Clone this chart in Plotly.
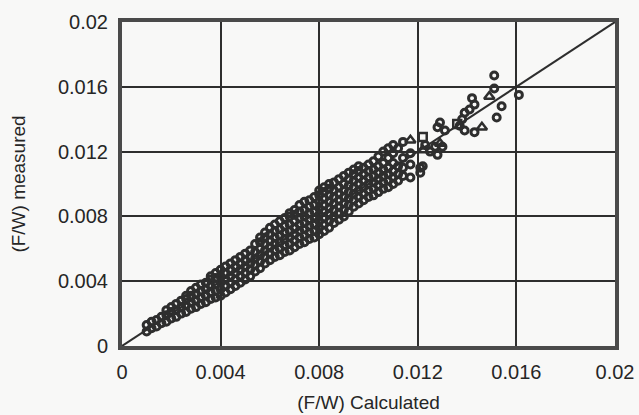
import plotly.graph_objects as go

# Main dense band of open circles: calculated (F/W) positions and the measured
# values read at each of them from the picture
band_calc = [
    0.0010, 0.0012, 0.0014, 0.0016, 0.0018, 0.0020, 0.0022, 0.0024, 0.0026, 0.0028,
    0.0030, 0.0032, 0.0034, 0.0036, 0.0038, 0.0040, 0.0042, 0.0044, 0.0046, 0.0048,
    0.0050, 0.0052, 0.0054, 0.0056, 0.0058, 0.0060, 0.0062, 0.0064, 0.0066, 0.0068,
    0.0070, 0.0072, 0.0074, 0.0076, 0.0078, 0.0080, 0.0082, 0.0084, 0.0086, 0.0088,
    0.0090, 0.0092, 0.0094, 0.0096, 0.0098, 0.0100, 0.0102, 0.0104, 0.0106, 0.0108,
    0.0110, 0.0112, 0.0114, 0.0117, 0.0121,
]
band_meas = [
    [0.0009, 0.0013],
    [0.0011, 0.0015],
    [0.0012, 0.0016],
    [0.0014, 0.0018],
    [0.0015, 0.0019, 0.0022],
    [0.0017, 0.0021, 0.0024],
    [0.0018, 0.0022, 0.0026],
    [0.0020, 0.0024, 0.0028],
    [0.0021, 0.0025, 0.0029, 0.0031],
    [0.0023, 0.0027, 0.0031, 0.0034],
    [0.0024, 0.0028, 0.0032, 0.0036],
    [0.0026, 0.0030, 0.0034, 0.0038],
    [0.0027, 0.0031, 0.0035, 0.0039],
    [0.0029, 0.0033, 0.0037, 0.0041, 0.0043],
    [0.0030, 0.0034, 0.0038, 0.0042, 0.0045],
    [0.0031, 0.0035, 0.0039, 0.0043, 0.0047],
    [0.0033, 0.0037, 0.0041, 0.0045, 0.0049],
    [0.0035, 0.0039, 0.0043, 0.0047, 0.0051],
    [0.0037, 0.0041, 0.0045, 0.0049, 0.0053],
    [0.0039, 0.0043, 0.0047, 0.0051, 0.0055],
    [0.0041, 0.0045, 0.0049, 0.0053, 0.0057],
    [0.0043, 0.0047, 0.0051, 0.0055, 0.0059],
    [0.0046, 0.0050, 0.0054, 0.0058, 0.0063],
    [0.0048, 0.0052, 0.0056, 0.0060, 0.0064, 0.0067],
    [0.0051, 0.0055, 0.0059, 0.0063, 0.0067, 0.0070],
    [0.0053, 0.0057, 0.0061, 0.0065, 0.0069, 0.0073],
    [0.0055, 0.0059, 0.0063, 0.0067, 0.0071, 0.0075],
    [0.0056, 0.0060, 0.0064, 0.0068, 0.0072, 0.0077],
    [0.0058, 0.0062, 0.0066, 0.0070, 0.0074, 0.0079],
    [0.0059, 0.0063, 0.0067, 0.0071, 0.0075, 0.0080, 0.0082],
    [0.0061, 0.0065, 0.0069, 0.0073, 0.0077, 0.0081, 0.0084],
    [0.0063, 0.0067, 0.0071, 0.0075, 0.0079, 0.0083, 0.0087],
    [0.0064, 0.0068, 0.0072, 0.0076, 0.0080, 0.0084, 0.0089],
    [0.0066, 0.0070, 0.0074, 0.0078, 0.0082, 0.0086, 0.0090],
    [0.0067, 0.0071, 0.0075, 0.0079, 0.0083, 0.0087, 0.0092],
    [0.0069, 0.0073, 0.0077, 0.0081, 0.0085, 0.0089, 0.0093, 0.0096],
    [0.0071, 0.0075, 0.0079, 0.0083, 0.0087, 0.0091, 0.0095, 0.0098],
    [0.0073, 0.0077, 0.0081, 0.0085, 0.0089, 0.0093, 0.0097, 0.0100],
    [0.0076, 0.0080, 0.0084, 0.0088, 0.0092, 0.0096, 0.0101],
    [0.0078, 0.0082, 0.0086, 0.0090, 0.0094, 0.0098, 0.0103],
    [0.0080, 0.0084, 0.0088, 0.0092, 0.0096, 0.0100, 0.0105],
    [0.0083, 0.0087, 0.0091, 0.0095, 0.0099, 0.0103, 0.0107],
    [0.0086, 0.0090, 0.0094, 0.0098, 0.0102, 0.0106, 0.0109],
    [0.0088, 0.0092, 0.0096, 0.0100, 0.0104, 0.0108, 0.0111],
    [0.0090, 0.0094, 0.0098, 0.0102, 0.0106, 0.0110],
    [0.0092, 0.0096, 0.0100, 0.0104, 0.0108, 0.0112],
    [0.0093, 0.0097, 0.0101, 0.0105, 0.0109, 0.0114],
    [0.0095, 0.0099, 0.0103, 0.0107, 0.0111, 0.0117],
    [0.0097, 0.0101, 0.0105, 0.0109, 0.0113, 0.0120],
    [0.0098, 0.0102, 0.0106, 0.0110, 0.0116, 0.0122],
    [0.0100, 0.0104, 0.0108, 0.0113, 0.0119, 0.0124],
    [0.0102, 0.0106, 0.0111, 0.0122],
    [0.0105, 0.0110, 0.0116, 0.0126],
    [0.0104, 0.0112, 0.0119],
    [0.0107, 0.0110],
]

# Scattered open circles beyond the band (upper end)
upper_calc = [0.0151, 0.0161, 0.0152, 0.0154, 0.0151, 0.0142, 0.0143, 0.0141, 0.0139,
              0.0138, 0.0137, 0.0139, 0.0143, 0.0129, 0.0128, 0.0131, 0.0125, 0.0130,
              0.0128, 0.0122, 0.0123, 0.0127]
upper_meas = [0.0167, 0.0155, 0.0141, 0.0148, 0.0159, 0.0153, 0.0149, 0.0146, 0.0144,
              0.0140, 0.0136, 0.0133, 0.0132, 0.0138, 0.0135, 0.0133, 0.0120, 0.0123,
              0.0118, 0.0111, 0.0124, 0.0123]

# Other symbols near the upper end
triangle_calc = [0.0117, 0.0146, 0.0149, 0.0129, 0.0122]
triangle_meas = [0.0127, 0.0135, 0.0154, 0.0125, 0.0121]
square_calc = [0.0122, 0.0136]
square_meas = [0.0129, 0.0137]

diag = [0.0, 0.02]

band_x = [x for x, ys in zip(band_calc, band_meas) for _ in ys]
band_y = [y for ys in band_meas for y in ys]

ink = "#2e2e2e"
bg = "#f8f8f7"

fig = go.Figure()
fig.add_trace(go.Scatter(x=diag, y=diag, mode="lines",
                         line=dict(color=ink, width=2), hoverinfo="skip"))
mk = dict(symbol="circle-open", size=7, line=dict(color=ink, width=3), color=ink)
fig.add_trace(go.Scatter(x=band_x, y=band_y, mode="markers", marker=mk))
fig.add_trace(go.Scatter(x=upper_calc, y=upper_meas, mode="markers", marker=mk))
fig.add_trace(go.Scatter(x=triangle_calc, y=triangle_meas, mode="markers",
                         marker=dict(symbol="triangle-up-open", size=9,
                                     line=dict(color=ink, width=2.5), color=ink)))
fig.add_trace(go.Scatter(x=square_calc, y=square_meas, mode="markers",
                         marker=dict(symbol="square-open", size=8,
                                     line=dict(color=ink, width=2.5), color=ink)))

tickvals = [0, 0.004, 0.008, 0.012, 0.016, 0.02]
ticktext = ["0", "0.004", "0.008", "0.012", "0.016", "0.02"]
fam = "Liberation Sans, Arial, sans-serif"
font = dict(family=fam, size=20, color="#262626")

axis_common = dict(
    range=[0, 0.02], tickvals=tickvals, ticktext=ticktext,
    showgrid=True, gridcolor=ink, gridwidth=2,
    zeroline=False, showline=True, linecolor="#4a4a4a", linewidth=4, mirror=True,
    tickfont=font, ticks="", fixedrange=True, automargin=False,
)

fig.update_layout(
    width=639, height=415,
    margin=dict(l=122, r=24, t=22, b=69),
    paper_bgcolor=bg, plot_bgcolor=bg,
    showlegend=False,
    xaxis=dict(**axis_common, ticklabelstandoff=5,
               title=dict(text="(F/W) Calculated", font=dict(family=fam, size=19, color="#262626"),
                          standoff=15)),
    yaxis=dict(**axis_common, ticklabelstandoff=6,
               title=dict(text="(F/W) measured", font=dict(family=fam, size=19, color="#262626"),
                          standoff=28)),
)

fig.write_html("out.html")
